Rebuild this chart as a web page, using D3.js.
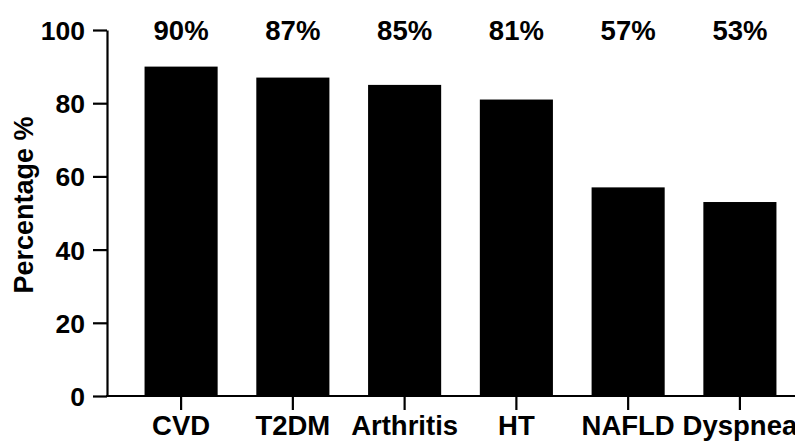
<!DOCTYPE html>
<html>
<head>
<meta charset="utf-8">
<script src="https://cdn.jsdelivr.net/npm/d3@7"></script>
<style>
  html, body { margin: 0; padding: 0; background: #fff; }
  svg { display: block; }
  text { font-family: "Liberation Sans", Arial, sans-serif; font-weight: bold; fill: #000; }
</style>
</head>
<body>
<svg id="chart" width="795" height="441"></svg>
<script>
const categories = ["CVD", "T2DM", "Arthritis", "HT", "NAFLD", "Dyspnea"];
const values = [90, 87, 85, 81, 57, 53];
const valueLabels = ["90%", "87%", "85%", "81%", "57%", "53%"];
const yTicks = [0, 20, 40, 60, 80, 100];
const yTitle = "Percentage %";

const svg = d3.select("#chart");
const axisX = 107, y0 = 396, y100 = 30;

const x = d3.scaleBand()
  .domain(categories)
  .range([axisX, 814])
  .paddingInner(0.346)
  .paddingOuter(0.336);

const y = d3.scaleLinear().domain([0, 100]).range([y0, y100]);

// bars
svg.append("g").selectAll("rect")
  .data(categories)
  .join("rect")
  .attr("x", d => x(d))
  .attr("width", x.bandwidth())
  .attr("y", (d, i) => y(values[i]))
  .attr("height", (d, i) => y(0) - y(values[i]))
  .attr("fill", "#000");

// y axis
const yAxis = svg.append("g")
  .attr("transform", `translate(${axisX},0)`)
  .call(d3.axisLeft(y).tickValues(yTicks).tickSize(14).tickPadding(8).tickSizeOuter(0));
yAxis.select(".domain").attr("stroke", "#000").attr("stroke-width", 2.2);
yAxis.selectAll(".tick line").attr("stroke", "#000").attr("stroke-width", 2.2);
yAxis.selectAll(".tick text").style("font-size", "26.5px").style("font-family", "'Liberation Sans', Arial, sans-serif").style("font-weight", "bold").attr("dy", "0.36em");

// x axis
const xAxis = svg.append("g")
  .attr("transform", `translate(0,${y0})`)
  .call(d3.axisBottom(x).tickSize(14).tickPadding(6).tickSizeOuter(0));
xAxis.select(".domain").attr("stroke", "#000").attr("stroke-width", 2.2)
  .attr("d", `M${axisX - 1},0H795`);
xAxis.selectAll(".tick line").attr("stroke", "#000").attr("stroke-width", 2.2);
xAxis.selectAll(".tick text").style("font-size", "27.5px").style("font-family", "'Liberation Sans', Arial, sans-serif").style("font-weight", "bold").attr("dy", "0.7em");

// value labels on top
svg.append("g").selectAll("text")
  .data(categories)
  .join("text")
  .attr("x", d => x(d) + x.bandwidth() / 2)
  .attr("y", 40)
  .attr("text-anchor", "middle")
  .style("font-size", "27.5px")
  .text((d, i) => valueLabels[i]);

// y title
svg.append("text")
  .attr("transform", `translate(33,${(y0 + y100) / 2 - 8}) rotate(-90)`)
  .attr("text-anchor", "middle")
  .style("font-size", "27px")
  .text(yTitle);
</script>
</body>
</html>
